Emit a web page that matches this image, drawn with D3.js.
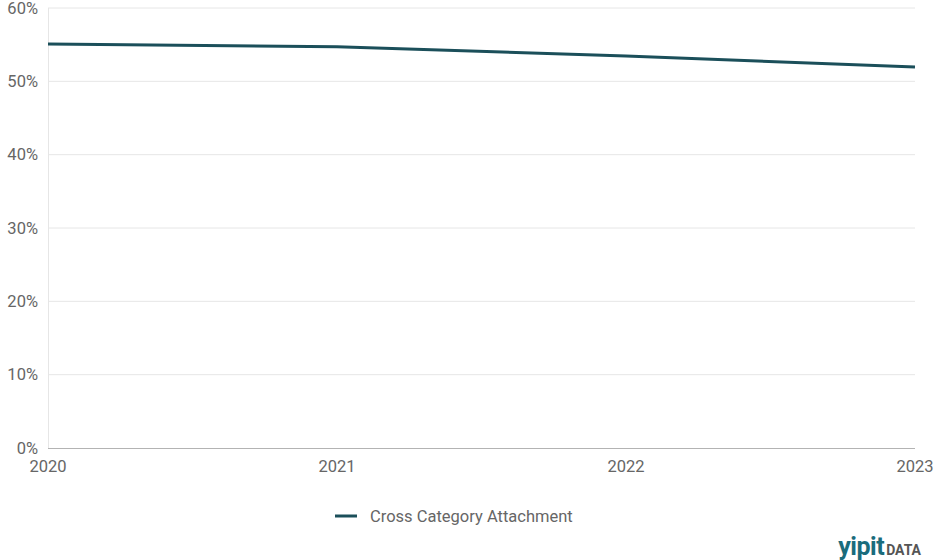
<!DOCTYPE html>
<html><head><meta charset="utf-8">
<script src="https://cdn.jsdelivr.net/npm/d3@7"></script>
<style>body{margin:0;background:#fff;}svg{display:block;font-family:Roboto,sans-serif;}</style>
</head><body><svg id="c" width="936" height="560"></svg>
<script>
const years = ["2020","2021","2022","2023"];
const attachment = [55.1, 54.7, 53.45, 51.95];
const yTicks = [0,10,20,30,40,50,60];
const seriesName = "Cross Category Attachment";

const svg = d3.select("#c");
const m = {l:48, r:915, t:8, b:448};
const x = d3.scalePoint().domain(years).range([m.l, m.r]);
const y = d3.scaleLinear().domain([0,60]).range([m.b, m.t]);

// gridlines
svg.append("g").selectAll("line").data(yTicks.filter(d=>d>0)).join("line")
  .attr("x1", m.l).attr("x2", m.r).attr("y1", d=>y(d)).attr("y2", d=>y(d))
  .attr("stroke", "#e6e6e6").attr("stroke-width", 1);
svg.append("line").attr("x1", m.l+0.5).attr("x2", m.l+0.5).attr("y1", m.t).attr("y2", m.b)
  .attr("stroke", "#e6e6e6");
svg.append("line").attr("x1", m.l).attr("x2", m.r).attr("y1", m.b+0.5).attr("y2", m.b+0.5)
  .attr("stroke", "#b3b3b3");

// y labels
svg.append("g").selectAll("text").data(yTicks).join("text")
  .attr("x", 38).attr("y", d=>y(d)+5.5).attr("text-anchor","end")
  .attr("font-size", 16.5).attr("fill", "#666").text(d=>d+"%");
// x labels
svg.append("g").selectAll("text").data(years).join("text")
  .attr("x", d=>x(d)).attr("y", 472).attr("text-anchor","middle")
  .attr("font-size", 16.5).attr("fill", "#666").text(d=>d);

// line
const line = d3.line().x((d,i)=>x(years[i])).y(d=>y(d));
svg.append("path").datum(attachment).attr("d", line)
  .attr("fill","none").attr("stroke","#1b4f5a").attr("stroke-width",3);

// legend
svg.append("line").attr("x1",335).attr("x2",357).attr("y1",516).attr("y2",516)
  .attr("stroke","#1b4f5a").attr("stroke-width",3);
svg.append("text").attr("x",370).attr("y",522).attr("font-size",16.5).attr("fill","#666").text(seriesName);

// logo
const logo = svg.append("text").attr("x",921).attr("y",555).attr("text-anchor","end").attr("font-family","Roboto, sans-serif");
logo.append("tspan").attr("font-size",25).attr("font-weight",700).attr("fill","#1a6c7c").attr("letter-spacing","-0.5").text("yipit");
logo.append("tspan").attr("font-size",14).attr("font-weight",700).attr("fill","#555").attr("dx",2).text("DATA");
</script></body></html>
